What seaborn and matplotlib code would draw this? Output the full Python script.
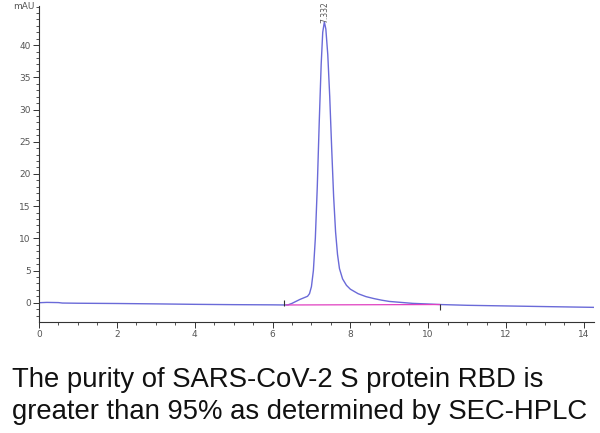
import numpy as np
import pandas as pd
import seaborn as sns
import matplotlib.pyplot as plt
from matplotlib.ticker import MultipleLocator

# chromatogram trace (retention time in min, absorbance in mAU)
time_min = [0.0, 0.2, 0.5, 0.6, 1.0, 2.0, 3.0, 4.0, 5.0, 6.0, 6.3, 6.4, 6.5, 6.6, 6.7,
            6.8, 6.9, 6.95, 7.0, 7.05, 7.1, 7.15, 7.2, 7.25, 7.29, 7.332, 7.37, 7.42,
            7.47, 7.52, 7.57, 7.62, 7.67, 7.72, 7.8, 7.9, 8.0, 8.2, 8.4, 8.6, 8.8, 9.0,
            9.3, 9.6, 10.0, 10.3, 11.0, 12.0, 13.0, 14.26]
signal_mau = [0.0, 0.05, 0.02, -0.05, -0.08, -0.12, -0.18, -0.25, -0.3, -0.33, -0.35,
              -0.33, -0.1, 0.2, 0.5, 0.75, 1.0, 1.4, 2.5, 5.0, 10.0, 18.0, 28.0, 37.0,
              42.0, 43.6, 42.5, 38.5, 32.0, 24.0, 16.5, 11.0, 7.5, 5.3, 3.7, 2.7, 2.1,
              1.4, 0.95, 0.65, 0.4, 0.2, 0.05, -0.1, -0.2, -0.28, -0.4, -0.5, -0.6, -0.72]

# integration baseline under the main peak
base_time = [6.35, 10.3]
base_mau = [-0.35, -0.28]

peak_time = 7.332
peak_label = "7.332"

caption = ("The purity of SARS-CoV-2 S protein RBD is\n"
           "greater than 95% as determined by SEC-HPLC")

sns.set_style("white")
plt.rcParams['font.family'] = ['DejaVu Sans']

fig = plt.figure(figsize=(6, 4.33), dpi=100)
ax = fig.add_axes([0.065, 0.257, 0.925, 0.729])

trace = pd.DataFrame({'time': time_min, 'mAU': signal_mau})
sns.lineplot(data=trace, x='time', y='mAU', sort=False, color='#6a6ad8', lw=1.0, ax=ax)
sns.lineplot(x=base_time, y=base_mau, color='#e040c0', lw=0.9, ax=ax)

# integration start / end markers
ax.plot(base_time[0] - 0.05, base_mau[0] + 0.35, marker='|', color='#333333', ms=5, mew=0.8)
ax.plot(base_time[1], base_mau[1] - 0.35, marker='|', color='#333333', ms=5, mew=0.8)

ax.text(peak_time, 43.4, peak_label, rotation=90, ha='center', va='bottom',
        fontsize=5.5, color='#555555', clip_on=False)

ax.set_xlim(0, 14.26)
ax.set_ylim(-2.95, 46.07)
ax.xaxis.set_major_locator(MultipleLocator(2))
ax.xaxis.set_minor_locator(MultipleLocator(0.5))
ax.set_yticks([0, 5, 10, 15, 20, 25, 30, 35, 40])
ax.yaxis.set_minor_locator(MultipleLocator(1))
ax.tick_params(axis='both', which='major', direction='out', length=4, width=0.7,
               colors='#333333', labelsize=6.5, labelcolor='#555555', pad=2,
               bottom=True, left=True)
ax.tick_params(axis='both', which='minor', direction='out', length=2, width=0.6,
               colors='#333333', bottom=True, left=True)
ax.set_xlabel('')
ax.set_ylabel('')

for side in ['top', 'right']:
    ax.spines[side].set_visible(False)
for side in ['left', 'bottom']:
    ax.spines[side].set_color('#333333')
    ax.spines[side].set_linewidth(0.8)

ax.text(-0.12, 46.07, 'mAU', ha='right', va='center', fontsize=6.5, color='#555555')

fig.text(0.02, 0.153, caption, ha='left', va='top', fontsize=19.8,
         family=['Liberation Sans'], color='#111111', linespacing=1.3)

fig.savefig('out.png', dpi=100)
